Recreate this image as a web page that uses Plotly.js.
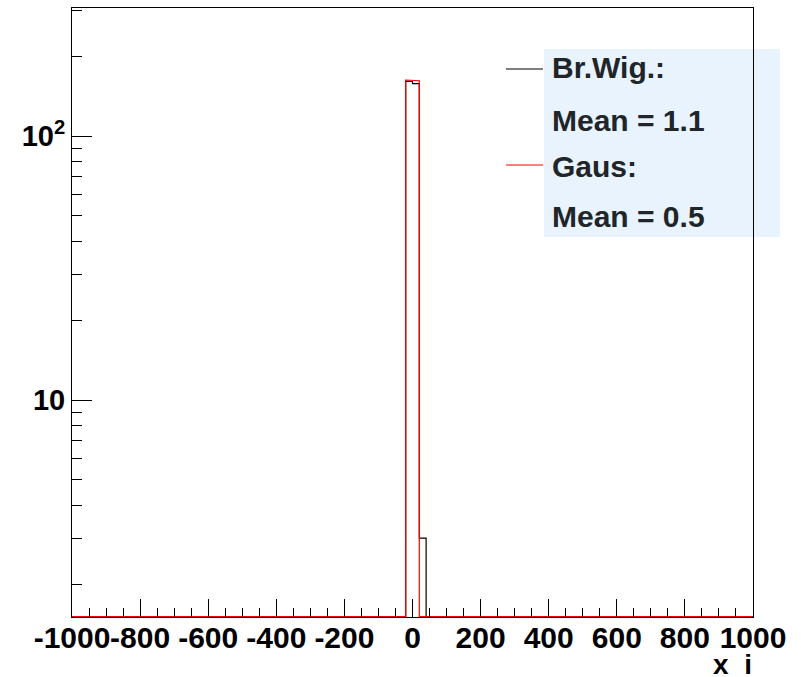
<!DOCTYPE html>
<html>
<head>
<meta charset="utf-8">
<script src="https://cdn.plot.ly/plotly-3.0.1.min.js"></script>
<style>html,body{margin:0;padding:0;background:#fff;}#plot{width:801px;height:677px;}</style>
</head>
<body>
<div id="plot"></div>
<script>
// ---- data ----
const binWidth = 20;
const xMin = -1000;
const xMax = 1000;
const brWigBinLow = [-20, 0, 20];
const brWigCounts = [161, 158, 3];
const gausBinLow = [-20, 0];
const gausCounts = [163, 162];
const xTickVals = [-1000, -800, -600, -400, -200, 0, 200, 400, 600, 800, 1000];
const xTickText = ['-1000', '-800', '-600', '-400', '-200', '0', '200', '400', '600', '800', '1000'];
const yTickVals = [10, 100];
const yTickText = ['10', '10<sup>2</sup>'];
const legendLines = ['Br.Wig.:', 'Mean = 1.1', 'Gaus:', 'Mean = 0.5'];
const xTitle = 'x\u00a0\u00a0i';

// ---- axis ranges ----
const yLogMin = 0.178, yLogMax = 2.485;
const floorVal = Math.pow(10, yLogMin + 0.3 / 264);

function stepTrace(binLow, counts, color) {
  const nb = Math.round((xMax - xMin) / binWidth);
  const full = new Array(nb).fill(0);
  binLow.forEach((b, i) => { full[Math.round((b - xMin) / binWidth)] = counts[i]; });
  const xs = [], ys = [];
  for (let i = 0; i < nb; i++) {
    const lo = xMin + i * binWidth, hi = lo + binWidth;
    const v = Math.max(full[i], floorVal);
    xs.push(lo, hi); ys.push(v, v);
  }
  return {x: xs, y: ys, type: 'scatter', mode: 'lines', line: {color: color, width: 1.2, shape: 'linear'},
          hoverinfo: 'skip', showlegend: false};
}

const xMinor = [];
for (let v = xMin; v <= xMax; v += 50) if (v % 200 !== 0) xMinor.push(v);
const yMinor = [];
[1, 10, 100].forEach(d => { for (let k = 2; k <= 9; k++) { const v = k * d; if (Math.log10(v) < yLogMax && Math.log10(v) > yLogMin) yMinor.push(v); } });

const xTickFont = {family: 'Liberation Sans, Arial, sans-serif', size: 30, color: '#000', weight: 'bold'};
const yTickFont = {family: 'Liberation Sans, Arial, sans-serif', size: 29, color: '#000', weight: 'bold'};
const legFont = {family: 'Liberation Sans, Arial, sans-serif', size: 30, color: '#202529', weight: 'bold'};

const px = p => (p - 72) / 681;
const py = p => (617 - p) / 609;

const legendY = [67.5, 120.5, 166, 216];
const annotations = legendLines.map((t, i) => ({
  text: t, xref: 'paper', yref: 'paper', x: px(550), y: py(legendY[i]), xanchor: 'left', yanchor: 'middle',
  showarrow: false, font: legFont
}));
annotations.push({text: xTitle, xref: 'paper', yref: 'paper', x: px(754), y: py(665), xanchor: 'right', yanchor: 'middle',
  showarrow: false, font: {family: 'Liberation Sans, Arial, sans-serif', size: 28, color: '#000', weight: 'bold'}});

const layout = {
  width: 801, height: 677,
  margin: {l: 72, r: 48, t: 8, b: 60, pad: 0},
  paper_bgcolor: '#fff', plot_bgcolor: 'rgba(0,0,0,0)',
  showlegend: false,
  xaxis: {range: [xMin, xMax], tickmode: 'array', tickvals: xTickVals, ticktext: xTickText, tickangle: 0,
          ticks: 'inside', ticklen: 18, tickwidth: 1, tickcolor: '#000', ticklabelstandoff: -6,
          showline: true, mirror: true, linecolor: '#000', linewidth: 1,
          showgrid: false, zeroline: false, tickfont: xTickFont,
          minor: {tickmode: 'array', tickvals: xMinor, ticks: 'inside', ticklen: 9, tickwidth: 1, tickcolor: '#000', showgrid: false}},
  yaxis: {type: 'log', range: [yLogMin, yLogMax], tickmode: 'array', tickvals: yTickVals, ticktext: yTickText,
          ticks: 'inside', ticklen: 20, tickwidth: 1, tickcolor: '#000',
          showline: true, mirror: true, linecolor: '#000', linewidth: 1,
          showgrid: false, zeroline: false, tickfont: yTickFont,
          minor: {tickmode: 'array', tickvals: yMinor, ticks: 'inside', ticklen: 10, tickwidth: 1, tickcolor: '#000', showgrid: false}},
  shapes: [
    {type: 'rect', xref: 'paper', yref: 'paper', x0: px(544), x1: px(780), y0: py(237), y1: py(49),
     fillcolor: '#e8f3fd', line: {width: 0}, layer: 'below'},
    {type: 'line', xref: 'paper', yref: 'paper', x0: px(506), x1: px(543), y0: py(69), y1: py(69), line: {color: '#000', width: 1}},
    {type: 'line', xref: 'paper', yref: 'paper', x0: px(506), x1: px(543), y0: py(165), y1: py(165), line: {color: '#ff0000', width: 1}}
  ],
  annotations: annotations
};

Plotly.newPlot('plot', [stepTrace(brWigBinLow, brWigCounts, '#000'), stepTrace(gausBinLow, gausCounts, '#ff0000')], layout,
  {staticPlot: true, displayModeBar: false});
</script>
</body>
</html>
